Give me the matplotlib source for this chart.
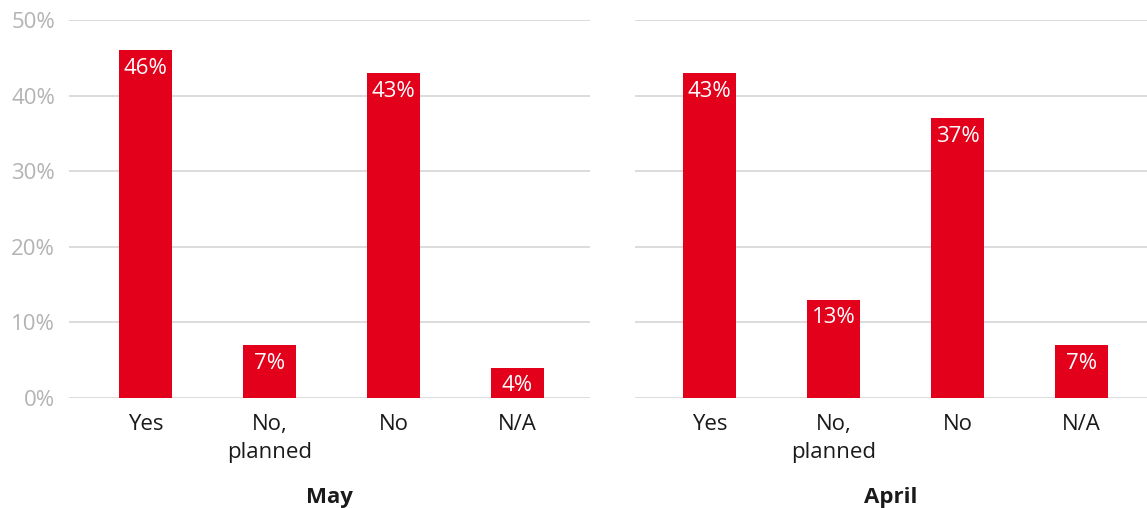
import matplotlib
matplotlib.use("Agg")
import matplotlib.pyplot as plt

plt.rcParams['font.family'] = ['Open Sans', 'DejaVu Sans']

categories = ['Yes', 'No,\nplanned', 'No', 'N/A']
may_values = [46, 7, 43, 4]
april_values = [43, 13, 37, 7]
panel_titles = ['May', 'April']

red = '#e2001a'
grid_col = '#dcdcdc'
tick_col = '#b3b3b3'
fs = 16

fig = plt.figure(figsize=(11.47, 5.08), dpi=100)
W, H = 1147, 508

def make_axes(x0, x1):
    return fig.add_axes([x0 / W, 1 - 398 / H, (x1 - x0) / W, (398 - 20) / H])

ax1 = make_axes(69, 590)
ax2 = make_axes(635, 1147)

panels = [(ax1, may_values, (-0.617, 3.585)), (ax2, april_values, (-0.601, 3.528))]

for i, (ax, vals, xl) in enumerate(panels):
    x = range(len(categories))
    ax.bar(x, vals, width=0.43, color=red, zorder=3)
    for xi, v in zip(x, vals):
        ax.annotate(f'{v}%', (xi, v), xytext=(0, -5.5), textcoords='offset points',
                    ha='center', va='top', color='white', fontsize=fs, zorder=4)
    ax.set_xlim(*xl)
    ax.set_ylim(0, 50)
    ax.set_yticks(range(0, 51, 10))
    ax.yaxis.grid(True, color=grid_col, linewidth=1.4, zorder=0)
    for s in ax.spines.values():
        s.set_visible(False)
    ax.set_xticks(list(x))
    ax.set_xticklabels(categories, fontsize=fs, color='#1a1a1a', linespacing=1.45)
    ax.tick_params(axis='x', length=0, pad=11.5)
    ax.tick_params(axis='y', length=0, pad=10, labelsize=fs, labelcolor=tick_col)
    if i == 0:
        ax.set_yticklabels([f'{t}%' for t in range(0, 51, 10)])
    else:
        ax.set_yticklabels([])
    ax.set_xlabel(panel_titles[i], fontsize=fs, fontweight='bold', labelpad=17, color='#1a1a1a')

fig.savefig('out.png', dpi=100)
